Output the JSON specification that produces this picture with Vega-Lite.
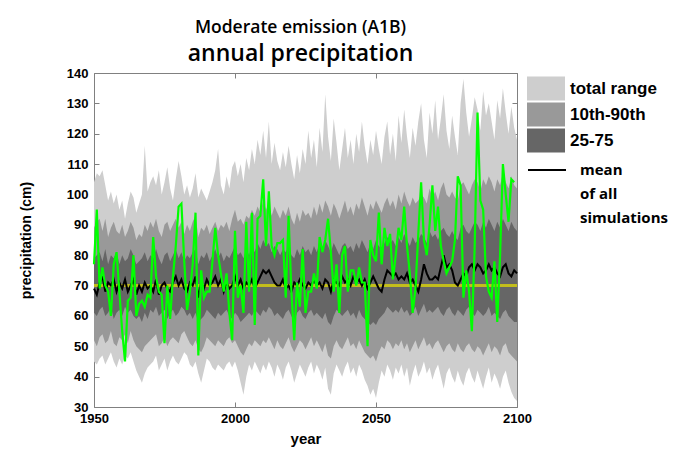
{
"$schema": "https://vega.github.io/schema/vega-lite/v6.json",
"width": 423, "height": 334,
"autosize": "none",
"padding": {"left": 94, "top": 73, "right": 171, "bottom": 51},
"background": "white",
"config": {"view": {"stroke": "#808080", "strokeWidth": 1}, "font": "Liberation Sans"},
"title": {"text": "Moderate emission (A1B)", "subtitle": "annual precipitation", "frame": "group", "anchor": "middle", "dx": -5, "offset": 1,
  "font": "Open Sans", "fontSize": 17.5, "fontWeight": 600, "color": "black",
  "subtitleFont": "Open Sans", "subtitleFontSize": 23, "subtitleFontWeight": 600, "subtitleColor": "black", "subtitlePadding": 7},
"data": {"values": [
{"year":1950,"min":45,"p10":52,"p25":61,"p75":79,"p90":89,"max":104,"mean":69,"sim":77},
{"year":1951,"min":44,"p10":50,"p25":60,"p75":80,"p90":91,"max":107,"mean":67,"sim":95},
{"year":1952,"min":46,"p10":53,"p25":62,"p75":81,"p90":92,"max":106,"mean":71,"sim":69},
{"year":1953,"min":47,"p10":54,"p25":63,"p75":78,"p90":88,"max":108,"mean":73,"sim":76},
{"year":1954,"min":44,"p10":51,"p25":60,"p75":82,"p90":92,"max":103,"mean":68,"sim":70},
{"year":1955,"min":46,"p10":52,"p25":61,"p75":77,"p90":86,"max":98,"mean":71,"sim":68},
{"year":1956,"min":48,"p10":55,"p25":63,"p75":80,"p90":89,"max":101,"mean":70,"sim":60},
{"year":1957,"min":45,"p10":51,"p25":59,"p75":79,"p90":91,"max":97,"mean":72,"sim":77},
{"year":1958,"min":43,"p10":50,"p25":61,"p75":81,"p90":88,"max":100,"mean":68,"sim":81},
{"year":1959,"min":46,"p10":53,"p25":62,"p75":77,"p90":87,"max":95,"mean":71,"sim":68},
{"year":1960,"min":44,"p10":52,"p25":60,"p75":80,"p90":90,"max":98,"mean":69,"sim":55},
{"year":1961,"min":47,"p10":54,"p25":63,"p75":78,"p90":86,"max":92,"mean":72,"sim":45},
{"year":1962,"min":46,"p10":51,"p25":61,"p75":79,"p90":88,"max":97,"mean":68,"sim":65},
{"year":1963,"min":48,"p10":55,"p25":62,"p75":82,"p90":91,"max":101,"mean":70,"sim":66},
{"year":1964,"min":45,"p10":52,"p25":60,"p75":80,"p90":89,"max":99,"mean":72,"sim":80},
{"year":1965,"min":42,"p10":50,"p25":59,"p75":77,"p90":85,"max":94,"mean":67,"sim":60},
{"year":1966,"min":40,"p10":49,"p25":60,"p75":78,"p90":87,"max":97,"mean":70,"sim":64},
{"year":1967,"min":38,"p10":48,"p25":58,"p75":79,"p90":86,"max":100,"mean":68,"sim":65},
{"year":1968,"min":41,"p10":50,"p25":61,"p75":81,"p90":90,"max":116,"mean":71,"sim":63},
{"year":1969,"min":43,"p10":51,"p25":59,"p75":78,"p90":88,"max":101,"mean":69,"sim":67},
{"year":1970,"min":44,"p10":52,"p25":62,"p75":80,"p90":91,"max":104,"mean":70,"sim":66},
{"year":1971,"min":45,"p10":53,"p25":61,"p75":79,"p90":89,"max":106,"mean":68,"sim":86},
{"year":1972,"min":47,"p10":54,"p25":63,"p75":82,"p90":92,"max":103,"mean":72,"sim":73},
{"year":1973,"min":42,"p10":50,"p25":60,"p75":79,"p90":88,"max":108,"mean":67,"sim":68},
{"year":1974,"min":44,"p10":51,"p25":61,"p75":77,"p90":86,"max":100,"mean":70,"sim":67},
{"year":1975,"min":46,"p10":53,"p25":62,"p75":80,"p90":90,"max":104,"mean":71,"sim":51},
{"year":1976,"min":42,"p10":50,"p25":59,"p75":81,"p90":91,"max":109,"mean":69,"sim":70},
{"year":1977,"min":45,"p10":52,"p25":61,"p75":78,"p90":88,"max":102,"mean":68,"sim":59},
{"year":1978,"min":47,"p10":53,"p25":62,"p75":80,"p90":90,"max":98,"mean":71,"sim":73},
{"year":1979,"min":45,"p10":52,"p25":60,"p75":82,"p90":92,"max":105,"mean":73,"sim":83},
{"year":1980,"min":44,"p10":51,"p25":61,"p75":79,"p90":89,"max":111,"mean":70,"sim":96},
{"year":1981,"min":46,"p10":54,"p25":63,"p75":81,"p90":91,"max":106,"mean":72,"sim":97},
{"year":1982,"min":48,"p10":55,"p25":62,"p75":78,"p90":87,"max":100,"mean":69,"sim":78},
{"year":1983,"min":47,"p10":53,"p25":60,"p75":80,"p90":90,"max":103,"mean":68,"sim":62},
{"year":1984,"min":44,"p10":51,"p25":61,"p75":79,"p90":88,"max":99,"mean":71,"sim":68},
{"year":1985,"min":43,"p10":50,"p25":59,"p75":81,"p90":91,"max":102,"mean":70,"sim":77},
{"year":1986,"min":45,"p10":52,"p25":61,"p75":82,"p90":93,"max":107,"mean":73,"sim":94},
{"year":1987,"min":41,"p10":49,"p25":58,"p75":77,"p90":86,"max":99,"mean":66,"sim":47},
{"year":1988,"min":38,"p10":48,"p25":59,"p75":80,"p90":89,"max":102,"mean":71,"sim":75},
{"year":1989,"min":42,"p10":50,"p25":60,"p75":79,"p90":88,"max":100,"mean":69,"sim":66},
{"year":1990,"min":46,"p10":53,"p25":62,"p75":81,"p90":90,"max":98,"mean":72,"sim":68},
{"year":1991,"min":45,"p10":52,"p25":61,"p75":78,"p90":87,"max":101,"mean":70,"sim":68},
{"year":1992,"min":43,"p10":51,"p25":60,"p75":80,"p90":89,"max":104,"mean":71,"sim":78},
{"year":1993,"min":42,"p10":50,"p25":59,"p75":82,"p90":91,"max":108,"mean":73,"sim":89},
{"year":1994,"min":44,"p10":52,"p25":61,"p75":79,"p90":88,"max":115,"mean":70,"sim":80},
{"year":1995,"min":43,"p10":51,"p25":60,"p75":81,"p90":90,"max":103,"mean":72,"sim":74},
{"year":1996,"min":42,"p10":50,"p25":61,"p75":78,"p90":89,"max":100,"mean":68,"sim":68},
{"year":1997,"min":44,"p10":52,"p25":62,"p75":80,"p90":91,"max":106,"mean":71,"sim":74},
{"year":1998,"min":45,"p10":53,"p25":60,"p75":79,"p90":88,"max":102,"mean":69,"sim":61},
{"year":1999,"min":43,"p10":51,"p25":59,"p75":81,"p90":92,"max":109,"mean":70,"sim":52},
{"year":2000,"min":45,"p10":52,"p25":61,"p75":83,"p90":95,"max":111,"mean":73,"sim":88},
{"year":2001,"min":42,"p10":50,"p25":60,"p75":80,"p90":91,"max":106,"mean":70,"sim":66},
{"year":2002,"min":38,"p10":48,"p25":58,"p75":81,"p90":92,"max":110,"mean":72,"sim":70},
{"year":2003,"min":34,"p10":47,"p25":59,"p75":79,"p90":90,"max":104,"mean":69,"sim":61},
{"year":2004,"min":40,"p10":49,"p25":60,"p75":82,"p90":93,"max":112,"mean":71,"sim":91},
{"year":2005,"min":44,"p10":51,"p25":61,"p75":80,"p90":92,"max":108,"mean":70,"sim":68},
{"year":2006,"min":42,"p10":50,"p25":60,"p75":83,"p90":95,"max":115,"mean":72,"sim":94},
{"year":2007,"min":45,"p10":52,"p25":62,"p75":81,"p90":93,"max":110,"mean":69,"sim":57},
{"year":2008,"min":43,"p10":51,"p25":61,"p75":84,"p90":96,"max":118,"mean":71,"sim":92},
{"year":2009,"min":41,"p10":50,"p25":60,"p75":82,"p90":94,"max":113,"mean":73,"sim":93},
{"year":2010,"min":44,"p10":52,"p25":62,"p75":85,"p90":98,"max":121,"mean":75,"sim":105},
{"year":2011,"min":42,"p10":51,"p25":61,"p75":83,"p90":95,"max":112,"mean":74,"sim":83},
{"year":2012,"min":45,"p10":53,"p25":63,"p75":84,"p90":97,"max":124,"mean":75,"sim":101},
{"year":2013,"min":43,"p10":51,"p25":62,"p75":81,"p90":93,"max":110,"mean":73,"sim":83},
{"year":2014,"min":40,"p10":49,"p25":60,"p75":83,"p90":96,"max":117,"mean":71,"sim":80},
{"year":2015,"min":44,"p10":52,"p25":61,"p75":82,"p90":94,"max":111,"mean":70,"sim":84},
{"year":2016,"min":42,"p10":50,"p25":60,"p75":80,"p90":92,"max":108,"mean":70,"sim":84},
{"year":2017,"min":39,"p10":49,"p25":59,"p75":82,"p90":95,"max":114,"mean":72,"sim":85},
{"year":2018,"min":43,"p10":51,"p25":61,"p75":81,"p90":93,"max":109,"mean":69,"sim":66},
{"year":2019,"min":45,"p10":53,"p25":62,"p75":83,"p90":96,"max":116,"mean":70,"sim":93},
{"year":2020,"min":42,"p10":50,"p25":60,"p75":80,"p90":92,"max":110,"mean":68,"sim":68},
{"year":2021,"min":38,"p10":48,"p25":58,"p75":79,"p90":90,"max":105,"mean":71,"sim":52},
{"year":2022,"min":41,"p10":50,"p25":61,"p75":82,"p90":94,"max":113,"mean":70,"sim":71},
{"year":2023,"min":44,"p10":52,"p25":62,"p75":80,"p90":91,"max":107,"mean":72,"sim":63},
{"year":2024,"min":42,"p10":51,"p25":60,"p75":83,"p90":95,"max":115,"mean":70,"sim":82},
{"year":2025,"min":40,"p10":49,"p25":59,"p75":81,"p90":93,"max":110,"mean":69,"sim":61},
{"year":2026,"min":43,"p10":51,"p25":61,"p75":82,"p90":94,"max":121,"mean":71,"sim":68},
{"year":2027,"min":45,"p10":53,"p25":62,"p75":80,"p90":92,"max":112,"mean":70,"sim":68},
{"year":2028,"min":41,"p10":50,"p25":60,"p75":83,"p90":96,"max":118,"mean":72,"sim":74},
{"year":2029,"min":44,"p10":52,"p25":61,"p75":81,"p90":93,"max":109,"mean":70,"sim":69},
{"year":2030,"min":42,"p10":50,"p25":60,"p75":84,"p90":97,"max":122,"mean":71,"sim":86},
{"year":2031,"min":39,"p10":48,"p25":59,"p75":82,"p90":94,"max":114,"mean":69,"sim":81},
{"year":2032,"min":43,"p10":51,"p25":61,"p75":85,"p90":98,"max":133,"mean":72,"sim":85},
{"year":2033,"min":36,"p10":47,"p25":58,"p75":83,"p90":96,"max":119,"mean":71,"sim":92},
{"year":2034,"min":34,"p10":46,"p25":57,"p75":81,"p90":93,"max":111,"mean":68,"sim":81},
{"year":2035,"min":41,"p10":50,"p25":60,"p75":84,"p90":97,"max":125,"mean":72,"sim":68},
{"year":2036,"min":44,"p10":52,"p25":62,"p75":82,"p90":95,"max":117,"mean":71,"sim":77},
{"year":2037,"min":42,"p10":50,"p25":61,"p75":80,"p90":92,"max":108,"mean":70,"sim":61},
{"year":2038,"min":40,"p10":49,"p25":60,"p75":83,"p90":95,"max":115,"mean":73,"sim":80},
{"year":2039,"min":43,"p10":51,"p25":61,"p75":84,"p90":98,"max":122,"mean":71,"sim":83},
{"year":2040,"min":45,"p10":53,"p25":62,"p75":82,"p90":94,"max":112,"mean":72,"sim":68},
{"year":2041,"min":41,"p10":50,"p25":60,"p75":83,"p90":96,"max":118,"mean":70,"sim":75},
{"year":2042,"min":43,"p10":51,"p25":61,"p75":81,"p90":93,"max":110,"mean":73,"sim":75},
{"year":2043,"min":40,"p10":49,"p25":59,"p75":84,"p90":97,"max":120,"mean":71,"sim":70},
{"year":2044,"min":44,"p10":52,"p25":62,"p75":82,"p90":95,"max":114,"mean":72,"sim":76},
{"year":2045,"min":42,"p10":50,"p25":60,"p75":85,"p90":99,"max":124,"mean":70,"sim":71},
{"year":2046,"min":39,"p10":48,"p25":59,"p75":83,"p90":96,"max":116,"mean":72,"sim":71},
{"year":2047,"min":37,"p10":47,"p25":58,"p75":81,"p90":93,"max":110,"mean":69,"sim":50},
{"year":2048,"min":34,"p10":46,"p25":57,"p75":84,"p90":97,"max":118,"mean":71,"sim":85},
{"year":2049,"min":36,"p10":47,"p25":58,"p75":82,"p90":95,"max":113,"mean":73,"sim":80},
{"year":2050,"min":33,"p10":45,"p25":57,"p75":85,"p90":98,"max":121,"mean":71,"sim":78},
{"year":2051,"min":38,"p10":48,"p25":59,"p75":83,"p90":96,"max":115,"mean":69,"sim":94},
{"year":2052,"min":42,"p10":50,"p25":60,"p75":82,"p90":94,"max":110,"mean":68,"sim":77},
{"year":2053,"min":40,"p10":49,"p25":61,"p75":84,"p90":97,"max":119,"mean":72,"sim":89},
{"year":2054,"min":44,"p10":52,"p25":63,"p75":86,"p90":99,"max":124,"mean":75,"sim":83},
{"year":2055,"min":42,"p10":51,"p25":62,"p75":84,"p90":96,"max":113,"mean":74,"sim":87},
{"year":2056,"min":39,"p10":49,"p25":61,"p75":85,"p90":98,"max":120,"mean":73,"sim":72},
{"year":2057,"min":43,"p10":51,"p25":62,"p75":83,"p90":95,"max":111,"mean":74,"sim":80},
{"year":2058,"min":41,"p10":50,"p25":61,"p75":86,"p90":100,"max":126,"mean":72,"sim":89},
{"year":2059,"min":44,"p10":52,"p25":63,"p75":84,"p90":97,"max":117,"mean":73,"sim":85},
{"year":2060,"min":40,"p10":49,"p25":61,"p75":87,"p90":101,"max":128,"mean":72,"sim":96},
{"year":2061,"min":43,"p10":51,"p25":62,"p75":85,"p90":98,"max":119,"mean":74,"sim":83},
{"year":2062,"min":37,"p10":48,"p25":60,"p75":83,"p90":96,"max":112,"mean":71,"sim":74},
{"year":2063,"min":41,"p10":50,"p25":61,"p75":86,"p90":99,"max":122,"mean":72,"sim":61},
{"year":2064,"min":44,"p10":52,"p25":63,"p75":84,"p90":97,"max":116,"mean":70,"sim":69},
{"year":2065,"min":40,"p10":49,"p25":60,"p75":85,"p90":98,"max":124,"mean":68,"sim":87},
{"year":2066,"min":42,"p10":51,"p25":62,"p75":87,"p90":100,"max":130,"mean":72,"sim":104},
{"year":2067,"min":45,"p10":53,"p25":64,"p75":86,"p90":99,"max":118,"mean":77,"sim":85},
{"year":2068,"min":41,"p10":50,"p25":61,"p75":84,"p90":97,"max":112,"mean":74,"sim":80},
{"year":2069,"min":43,"p10":51,"p25":62,"p75":88,"p90":102,"max":127,"mean":72,"sim":90},
{"year":2070,"min":39,"p10":49,"p25":61,"p75":86,"p90":99,"max":120,"mean":72,"sim":103},
{"year":2071,"min":42,"p10":51,"p25":62,"p75":87,"p90":101,"max":131,"mean":73,"sim":88},
{"year":2072,"min":44,"p10":52,"p25":63,"p75":85,"p90":98,"max":118,"mean":72,"sim":96},
{"year":2073,"min":40,"p10":50,"p25":61,"p75":88,"p90":102,"max":125,"mean":76,"sim":83},
{"year":2074,"min":36,"p10":48,"p25":60,"p75":89,"p90":104,"max":133,"mean":80,"sim":78},
{"year":2075,"min":41,"p10":50,"p25":62,"p75":87,"p90":100,"max":121,"mean":76,"sim":74},
{"year":2076,"min":43,"p10":51,"p25":63,"p75":86,"p90":99,"max":115,"mean":77,"sim":76},
{"year":2077,"min":40,"p10":49,"p25":61,"p75":88,"p90":101,"max":126,"mean":75,"sim":78},
{"year":2078,"min":38,"p10":48,"p25":60,"p75":86,"p90":99,"max":119,"mean":71,"sim":85},
{"year":2079,"min":42,"p10":51,"p25":62,"p75":85,"p90":98,"max":113,"mean":70,"sim":106},
{"year":2080,"min":39,"p10":49,"p25":61,"p75":89,"p90":103,"max":130,"mean":72,"sim":103},
{"year":2081,"min":37,"p10":48,"p25":60,"p75":90,"p90":104,"max":138,"mean":74,"sim":66},
{"year":2082,"min":41,"p10":50,"p25":62,"p75":88,"p90":102,"max":127,"mean":73,"sim":75},
{"year":2083,"min":43,"p10":51,"p25":63,"p75":87,"p90":100,"max":119,"mean":76,"sim":68},
{"year":2084,"min":40,"p10":49,"p25":61,"p75":89,"p90":103,"max":125,"mean":77,"sim":55},
{"year":2085,"min":38,"p10":48,"p25":60,"p75":91,"p90":105,"max":132,"mean":75,"sim":83},
{"year":2086,"min":42,"p10":50,"p25":62,"p75":90,"p90":104,"max":128,"mean":77,"sim":127},
{"year":2087,"min":39,"p10":49,"p25":61,"p75":88,"p90":101,"max":121,"mean":76,"sim":98},
{"year":2088,"min":36,"p10":47,"p25":60,"p75":91,"p90":105,"max":134,"mean":74,"sim":95},
{"year":2089,"min":40,"p10":49,"p25":61,"p75":89,"p90":103,"max":126,"mean":75,"sim":73},
{"year":2090,"min":43,"p10":51,"p25":63,"p75":92,"p90":106,"max":130,"mean":77,"sim":68},
{"year":2091,"min":38,"p10":48,"p25":60,"p75":90,"p90":104,"max":124,"mean":75,"sim":66},
{"year":2092,"min":41,"p10":50,"p25":61,"p75":88,"p90":101,"max":118,"mean":76,"sim":78},
{"year":2093,"min":39,"p10":49,"p25":60,"p75":91,"p90":105,"max":131,"mean":74,"sim":58},
{"year":2094,"min":36,"p10":47,"p25":59,"p75":89,"p90":103,"max":125,"mean":73,"sim":80},
{"year":2095,"min":40,"p10":50,"p25":61,"p75":92,"p90":107,"max":135,"mean":76,"sim":110},
{"year":2096,"min":42,"p10":51,"p25":62,"p75":90,"p90":104,"max":127,"mean":77,"sim":100},
{"year":2097,"min":38,"p10":48,"p25":60,"p75":88,"p90":102,"max":120,"mean":74,"sim":91},
{"year":2098,"min":35,"p10":47,"p25":59,"p75":91,"p90":106,"max":129,"mean":73,"sim":105},
{"year":2099,"min":33,"p10":46,"p25":58,"p75":89,"p90":103,"max":122,"mean":75,"sim":104},
{"year":2100,"min":32,"p10":45,"p25":58,"p75":88,"p90":102,"max":118,"mean":74,"sim":null}
]},
"layer": [
 {"mark": {"type": "area", "opacity": 1},
  "encoding": {
   "x": {"field": "year", "type": "quantitative", "scale": {"domain": [1950, 2100], "nice": false, "zero": false},
     "axis": {"orient": "bottom", "values": [1950, 2000, 2050, 2100], "format": "d", "title": "year", "titleFontSize": 15, "titleFontWeight": "bold", "titleColor": "black", "titlePadding": 6,
       "labelFontSize": 13, "labelFontWeight": "bold", "labelColor": "black", "labelPadding": 10, "labelFlush": false, "labelOverlap": false,
       "tickSize": -5, "tickColor": "#808080", "domain": false, "grid": false}},
   "y": {"field": "max", "type": "quantitative", "scale": {"domain": [30, 140], "nice": false, "zero": false},
     "axis": {"orient": "left", "values": [30,40,50,60,70,80,90,100,110,120,130,140], "title": "precipitation (cm)", "titleFontSize": 14, "titleFontWeight": "bold", "titleColor": "black", "titlePadding": 33,
       "labelFontSize": 13, "labelFontWeight": "bold", "labelColor": "black", "labelPadding": 11, "labelFlush": false, "labelOverlap": false,
       "tickSize": -5, "tickColor": "#808080", "domain": false, "grid": false}},
   "y2": {"field": "min"},
   "fill": {"datum": "total range", "type": "nominal",
     "scale": {"domain": ["total range", "10th-90th", "25-75"], "range": ["#cecece", "#999999", "#666666"]},
     "legend": {"orient": "none", "legendX": 442.5, "legendY": 6, "title": null, "padding": 0,
       "symbolType": "M-2,-1.26L2,-1.26L2,1.26L-2,1.26Z", "symbolSize": 361, "symbolStrokeWidth": 0, "symbolOpacity": 1,
       "labelFont": "Liberation Sans", "labelFontSize": 17, "labelFontWeight": "bold", "labelColor": "black", "labelOffset": 14.5, "rowPadding": 1}}
  }},
 {"mark": {"type": "area", "opacity": 1},
  "encoding": {
   "x": {"field": "year", "type": "quantitative", "axis": null},
   "y": {"field": "p90", "type": "quantitative", "axis": null},
   "y2": {"field": "p10"},
   "fill": {"datum": "10th-90th", "type": "nominal"}
  }},
 {"mark": {"type": "area", "opacity": 1},
  "encoding": {
   "x": {"field": "year", "type": "quantitative", "axis": null},
   "y": {"field": "p75", "type": "quantitative", "axis": null},
   "y2": {"field": "p25"},
   "fill": {"datum": "25-75", "type": "nominal"}
  }},
 {"mark": {"type": "rule", "color": "#c4be1c", "strokeWidth": 1.5},
  "encoding": {"y": {"datum": 70, "type": "quantitative", "axis": null}}},
 {"mark": {"type": "line", "strokeWidth": 2},
  "encoding": {
   "x": {"field": "year", "type": "quantitative", "axis": null},
   "y": {"field": "mean", "type": "quantitative", "axis": null},
   "stroke": {"datum": "mean", "type": "nominal",
     "scale": {"domain": ["mean", "of all", "simulations"], "range": ["black", "white", "white"]},
     "legend": {"orient": "none", "legendX": 442.5, "legendY": 86.5, "title": null, "padding": 0,
       "symbolType": "M-2,0L2,0", "symbolSize": 361, "symbolStrokeWidth": 2, "symbolFillColor": "transparent",
       "labelFont": "Open Sans", "labelFontSize": 15, "labelFontWeight": "bold", "labelColor": "black", "labelOffset": 22.5, "rowPadding": 5}}
  }},
 {"mark": {"type": "line", "color": "#00ff00", "strokeWidth": 2.2},
  "encoding": {
   "x": {"field": "year", "type": "quantitative",
     "axis": {"orient": "top", "values": [1950, 2000, 2050, 2100], "labels": false, "title": null, "tickSize": -5, "tickColor": "#808080", "domain": false, "grid": false}},
   "y": {"field": "sim", "type": "quantitative",
     "axis": {"orient": "right", "values": [30,40,50,60,70,80,90,100,110,120,130,140], "labels": false, "title": null, "tickSize": -5, "tickColor": "#808080", "domain": false, "grid": false}}
  }}
],
"resolve": {"axis": {"x": "independent", "y": "independent"}}
}
